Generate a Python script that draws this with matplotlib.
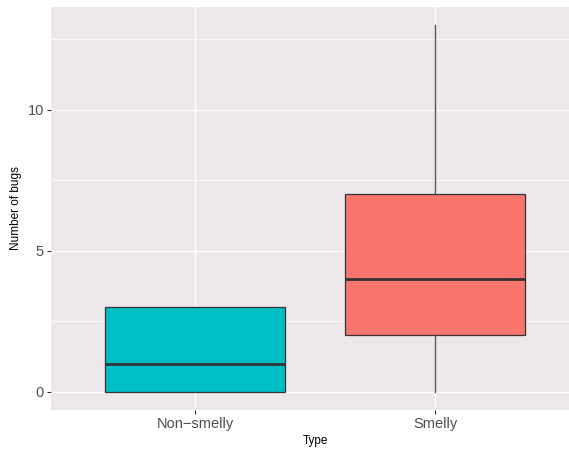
import matplotlib.pyplot as plt
from matplotlib.ticker import MultipleLocator

plt.rcParams['font.family'] = ['Liberation Sans', 'DejaVu Sans']

# box summary per group: lower whisker, Q1, median, Q3, upper whisker
types = ['Non\u2212smelly', 'Smelly']
whisker_low = [0, 0]
q1 = [0, 2]
median = [1, 4]
q3 = [3, 7]
whisker_high = [3, 13]
fill_colors = ['#00BFC4', '#F8766D']

stats = []
for i, name in enumerate(types):
    stats.append({'label': name, 'whislo': whisker_low[i], 'q1': q1[i],
                  'med': median[i], 'q3': q3[i], 'whishi': whisker_high[i],
                  'fliers': []})

fig = plt.figure(figsize=(5.69, 4.49), dpi=100)
# panel runs a bit past the right edge of the figure
ax = fig.add_axes([51 / 569, 39 / 449, 528 / 569, 403 / 449])
ax.set_facecolor('#EDE7EB')

bp = ax.bxp(stats, positions=[1, 2], widths=0.75, patch_artist=True,
            showcaps=False,
            boxprops=dict(edgecolor='#333333', linewidth=0.9),
            medianprops=dict(color='#333333', linewidth=2.0),
            whiskerprops=dict(color='#555555', linewidth=1.0),
            zorder=3)
for patch, c in zip(bp['boxes'], fill_colors):
    patch.set_facecolor(c)

ax.set_xlim(0.4, 2.6)
ax.set_ylim(-0.65, 13.65)
ax.yaxis.set_major_locator(MultipleLocator(5))
ax.yaxis.set_minor_locator(MultipleLocator(2.5))
ax.grid(which='major', color='white', linewidth=1.0, zorder=0)
ax.grid(which='minor', axis='y', color='white', linewidth=0.5, zorder=0)
ax.set_axisbelow(True)
for s in ax.spines.values():
    s.set_visible(False)

ax.tick_params(which='major', length=3, width=0.8, color='#333333',
               labelcolor='#4D4D4D', labelsize=10.5, pad=2)
ax.tick_params(which='minor', length=0)
ax.set_xlabel('Type', fontsize=8.5, labelpad=3)
ax.set_ylabel('Number of bugs', fontsize=8.5, labelpad=4)

fig.savefig('out.png', dpi=100)
